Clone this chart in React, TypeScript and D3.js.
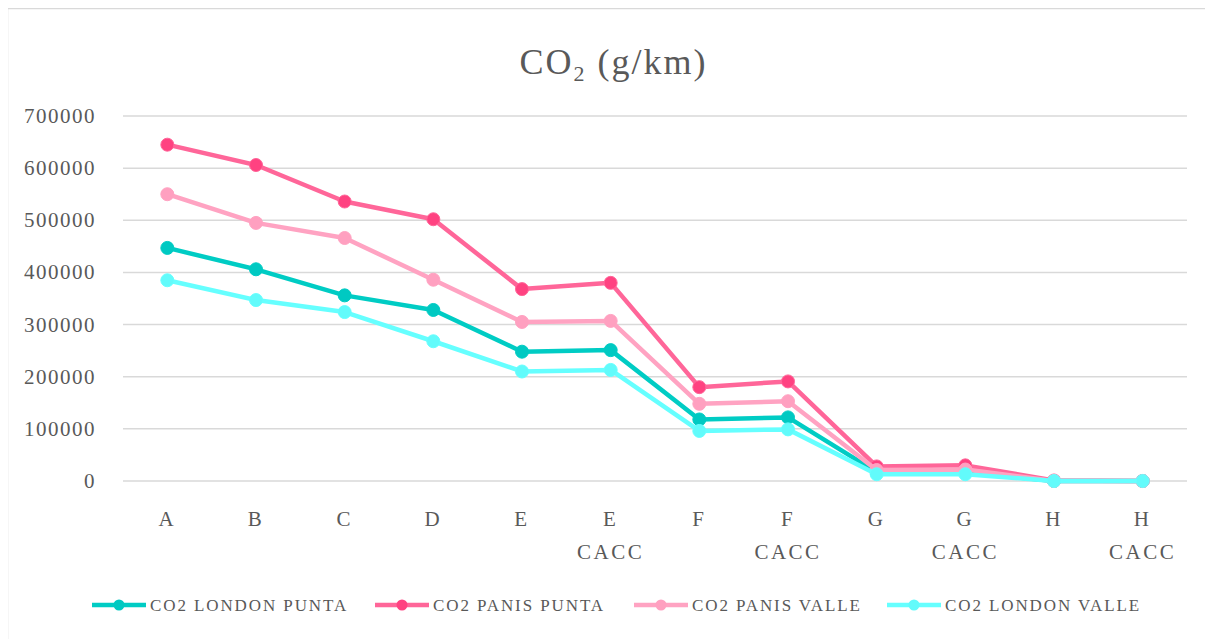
import React from "react";
import * as d3 from "d3";

const categories = ["A", "B", "C", "D", "E", "E\nCACC", "F", "F\nCACC", "G", "G\nCACC", "H", "H\nCACC"];
const londonPunta = [447000, 406000, 356000, 328000, 248000, 251000, 118000, 122000, 17000, 17000, 0, 0];
const panisPunta = [645000, 606000, 536000, 502000, 368000, 380000, 180000, 191000, 28000, 30000, 1000, 0];
const panisValle = [550000, 495000, 466000, 386000, 305000, 307000, 148000, 153000, 21000, 22000, 0, 0];
const londonValle = [385000, 347000, 324000, 268000, 210000, 213000, 96000, 99000, 13000, 13000, 0, 0];
const yTicks = [0, 100000, 200000, 300000, 400000, 500000, 600000, 700000];

const seriesList = [
  { name: "CO2 LONDON PUNTA", values: londonPunta, line: "#00CCC4", marker: "#00C9C2" },
  { name: "CO2 PANIS PUNTA", values: panisPunta, line: "#FF6699", marker: "#FF4281" },
  { name: "CO2 PANIS VALLE", values: panisValle, line: "#FFA3C2", marker: "#FFA0C0" },
  { name: "CO2 LONDON VALLE", values: londonValle, line: "#66FFFF", marker: "#62FBFB" },
];
const legendX = [84, 367, 626, 879];

const W = 1205;
const H = 631;
const FONT = "'Liberation Serif', 'Times New Roman', serif";
const TXT = "#595959";

export default function App() {
  const x = d3.scaleBand<number>().domain(d3.range(categories.length)).range([115, 1179]);
  const y = d3.scaleLinear().domain([0, 700000]).range([473, 108]);
  const cx = (i: number) => (x(i) as number) + x.bandwidth() / 2;
  const line = d3
    .line<number>()
    .x((_, i) => cx(i))
    .y((d) => y(d));

  return (
    <svg width={W} height={H} style={{ display: "block", overflow: "hidden" }} fontFamily={FONT}>
      <rect x={0} y={0} width={W} height={H} fill="#fff" />
      <rect x={-0.5} y={0.5} width={W + 10} height={H + 10} fill="none" stroke="#d9d9d9" strokeWidth={1.5} />
      <text x={W / 2 + 3} y={66} textAnchor="middle" fontSize={36} fill={TXT} letterSpacing={2}>
        CO<tspan fontSize={22} dy={7}>2</tspan>
        <tspan dy={-7}> (g/km)</tspan>
      </text>
      {yTicks.map((t) => (
        <g key={t}>
          <line x1={115} x2={1179} y1={y(t)} y2={y(t)} stroke="#d9d9d9" strokeWidth={1.5} />
          <text x={88} y={y(t) + 7} textAnchor="end" fontSize={21} fill={TXT} letterSpacing={1.5}>
            {t}
          </text>
        </g>
      ))}
      {categories.map((c, i) =>
        c.split("\n").map((part, j) => (
          <text
            key={i + "-" + j}
            x={cx(i)}
            y={518 + j * 33}
            textAnchor="middle"
            fontSize={21}
            fill={TXT}
            letterSpacing={2.5}
          >
            {part}
          </text>
        ))
      )}
      {seriesList.map((s) => (
        <g key={s.name}>
          <path d={line(s.values) || ""} fill="none" stroke={s.line} strokeWidth={4.5} strokeLinejoin="round" />
          {s.values.map((v, i) => (
            <circle key={i} cx={cx(i)} cy={y(v)} r={6.5} fill={s.marker} stroke={s.line} strokeWidth={1} />
          ))}
        </g>
      ))}
      {seriesList.map((s, k) => (
        <g key={"lg" + k} transform={`translate(${legendX[k]},597)`}>
          <line x1={0} x2={54} y1={0} y2={0} stroke={s.line} strokeWidth={4.5} />
          <circle cx={27} cy={0} r={5.5} fill={s.marker} />
          <text x={58} y={6} fontSize={17} fill={TXT} letterSpacing={1.9}>
            {s.name}
          </text>
        </g>
      ))}
    </svg>
  );
}
